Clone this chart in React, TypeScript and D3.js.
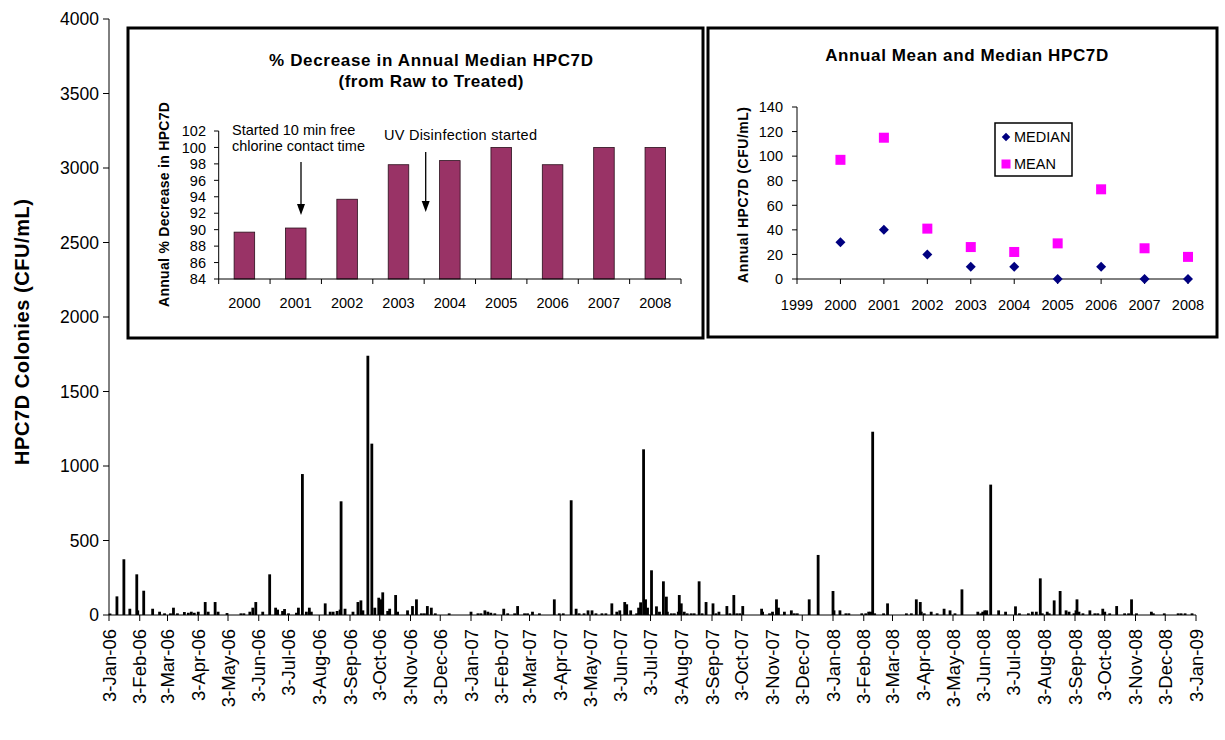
import React from 'react';
import * as d3 from 'd3';

// ---------- main chart data (sample date, HPC7D CFU/mL) ----------
const hpcSamples: [string, number][] = [
  ['2006-01-04', 10], ['2006-01-11', 125], ['2006-01-18', 374], ['2006-01-24', 42], ['2006-01-31', 273],
  ['2006-02-01', 31], ['2006-02-07', 163], ['2006-02-16', 42], ['2006-02-23', 22], ['2006-02-28', 11],
  ['2006-03-06', 11], ['2006-03-09', 49], ['2006-03-13', 11], ['2006-03-20', 20], ['2006-03-24', 15],
  ['2006-03-27', 22], ['2006-03-30', 15], ['2006-04-03', 22], ['2006-04-10', 87], ['2006-04-13', 22],
  ['2006-04-20', 87], ['2006-04-23', 22], ['2006-05-02', 13], ['2006-05-16', 11], ['2006-05-19', 11],
  ['2006-05-25', 22], ['2006-05-28', 49], ['2006-05-31', 87], ['2006-06-07', 22], ['2006-06-14', 273],
  ['2006-06-20', 49], ['2006-06-22', 36], ['2006-06-27', 27], ['2006-06-29', 40], ['2006-07-03', 11],
  ['2006-07-11', 15], ['2006-07-13', 49], ['2006-07-17', 946], ['2006-07-21', 22], ['2006-07-24', 49],
  ['2006-07-26', 22], ['2006-08-09', 78], ['2006-08-14', 22], ['2006-08-17', 22], ['2006-08-21', 27],
  ['2006-08-24', 36], ['2006-08-25', 763], ['2006-08-29', 42], ['2006-09-06', 22], ['2006-09-11', 87],
  ['2006-09-14', 98], ['2006-09-16', 31], ['2006-09-21', 1740], ['2006-09-25', 1150], ['2006-09-28', 49],
  ['2006-10-02', 116], ['2006-10-04', 105], ['2006-10-06', 152], ['2006-10-11', 27], ['2006-10-13', 42],
  ['2006-10-19', 134], ['2006-10-21', 22], ['2006-10-31', 31], ['2006-11-05', 60], ['2006-11-09', 105],
  ['2006-11-14', 11], ['2006-11-17', 11], ['2006-11-20', 60], ['2006-11-24', 49], ['2006-11-28', 11],
  ['2006-12-12', 11],
  ['2007-01-03', 22], ['2007-01-10', 11], ['2007-01-13', 11], ['2007-01-17', 31], ['2007-01-20', 22],
  ['2007-01-23', 15], ['2007-01-27', 11], ['2007-02-05', 42], ['2007-02-09', 11], ['2007-02-16', 11],
  ['2007-02-19', 60], ['2007-02-26', 11], ['2007-03-01', 11], ['2007-03-06', 22], ['2007-03-13', 11],
  ['2007-03-28', 105], ['2007-04-02', 11], ['2007-04-06', 11], ['2007-04-14', 770], ['2007-04-19', 42],
  ['2007-04-22', 11], ['2007-04-27', 11], ['2007-05-01', 31], ['2007-05-05', 31], ['2007-05-09', 11],
  ['2007-05-15', 11], ['2007-05-19', 11], ['2007-05-25', 78], ['2007-05-30', 22], ['2007-06-02', 31],
  ['2007-06-07', 87], ['2007-06-09', 72], ['2007-06-13', 31], ['2007-06-19', 11], ['2007-06-21', 49],
  ['2007-06-23', 85], ['2007-06-26', 1112], ['2007-06-28', 105], ['2007-06-30', 49], ['2007-07-04', 300],
  ['2007-07-09', 58], ['2007-07-12', 22], ['2007-07-16', 226], ['2007-07-19', 123], ['2007-07-20', 22],
  ['2007-07-24', 11], ['2007-07-27', 11], ['2007-07-31', 22], ['2007-08-01', 134], ['2007-08-03', 78],
  ['2007-08-06', 22], ['2007-08-09', 11], ['2007-08-13', 11], ['2007-08-16', 11], ['2007-08-21', 226],
  ['2007-08-24', 11], ['2007-08-28', 87], ['2007-09-04', 78], ['2007-09-07', 11], ['2007-09-10', 22],
  ['2007-09-18', 60], ['2007-09-21', 11], ['2007-09-25', 134], ['2007-09-28', 11], ['2007-10-01', 11],
  ['2007-10-04', 60], ['2007-10-23', 42], ['2007-10-24', 22], ['2007-10-31', 11], ['2007-11-03', 22],
  ['2007-11-07', 105], ['2007-11-09', 49], ['2007-11-15', 22], ['2007-11-22', 31], ['2007-11-25', 11],
  ['2007-11-28', 11], ['2007-12-10', 105], ['2007-12-19', 403],
  ['2008-01-03', 161], ['2008-01-04', 31], ['2008-01-10', 31], ['2008-01-16', 11], ['2008-01-19', 11],
  ['2008-02-01', 11], ['2008-02-05', 11], ['2008-02-08', 22], ['2008-02-10', 22], ['2008-02-12', 1230],
  ['2008-02-14', 11], ['2008-02-23', 11], ['2008-02-27', 78], ['2008-03-17', 11], ['2008-03-22', 11],
  ['2008-03-27', 105], ['2008-03-31', 87], ['2008-04-01', 22], ['2008-04-04', 11], ['2008-04-11', 22],
  ['2008-04-17', 11], ['2008-04-24', 42], ['2008-04-30', 31], ['2008-05-05', 11], ['2008-05-12', 172],
  ['2008-05-28', 22], ['2008-05-31', 11], ['2008-06-02', 22], ['2008-06-04', 31], ['2008-06-06', 31],
  ['2008-06-10', 875], ['2008-06-18', 31], ['2008-06-25', 22], ['2008-07-05', 58], ['2008-07-09', 11],
  ['2008-07-18', 11], ['2008-07-22', 22], ['2008-07-26', 22], ['2008-07-30', 246], ['2008-08-01', 11],
  ['2008-08-06', 22], ['2008-08-08', 11], ['2008-08-13', 98], ['2008-08-19', 161], ['2008-08-25', 31],
  ['2008-08-28', 22], ['2008-09-02', 11], ['2008-09-04', 31], ['2008-09-05', 105], ['2008-09-07', 22],
  ['2008-09-11', 11], ['2008-09-18', 31], ['2008-09-23', 11], ['2008-09-26', 11], ['2008-10-01', 42],
  ['2008-10-03', 22], ['2008-10-08', 11], ['2008-10-15', 60], ['2008-10-23', 11], ['2008-10-27', 11],
  ['2008-10-30', 105], ['2008-11-04', 11], ['2008-11-19', 22], ['2008-11-21', 11], ['2008-12-02', 11],
  ['2008-12-16', 11], ['2008-12-19', 11], ['2008-12-23', 11], ['2008-12-30', 11],
];
const mainYTicks = [0, 500, 1000, 1500, 2000, 2500, 3000, 3500, 4000];
const mainYTitle = 'HPC7D Colonies (CFU/mL)';

// ---------- inset 1: % decrease ----------
const decreaseYears = ['2000', '2001', '2002', '2003', '2004', '2005', '2006', '2007', '2008'];
const pctDecrease = [89.7, 90.2, 93.7, 97.9, 98.4, 100, 97.9, 100, 100];
const pctTicks = [84, 86, 88, 90, 92, 94, 96, 98, 100, 102];

// ---------- inset 2: annual mean & median ----------
const statYears = [2000, 2001, 2002, 2003, 2004, 2005, 2006, 2007, 2008];
const medianHPC = [30, 40, 20, 10, 10, 0, 10, 0, 0];
const meanHPC = [97, 115, 41, 26, 22, 29, 73, 25, 18];
const statYTicks = [0, 20, 40, 60, 80, 100, 120, 140];
const statXTicks = [1999, 2000, 2001, 2002, 2003, 2004, 2005, 2006, 2007, 2008];

const FONT = "'Liberation Sans', Arial, Helvetica, sans-serif";
const DIAMOND = 'M0,-5L5,0L0,5L-5,0Z';

export default function App() {
  const parse = d3.timeParse('%Y-%m-%d');
  const fmt = d3.timeFormat('%-d-%b-%y');

  // main
  const x = d3.scaleTime().domain([new Date(2006, 0, 3), new Date(2009, 0, 3)]).range([109, 1196]);
  const y = d3.scaleLinear().domain([0, 4000]).range([615, 19]);
  const monthTicks = d3.range(0, 37).map((i) => new Date(2006, i, 3));

  // inset 1
  const xb = d3.scaleBand<string>().domain(decreaseYears).range([218.7, 681]).paddingInner(0.6).paddingOuter(0.3);
  const yb = d3.scaleLinear().domain([84, 102]).range([279, 131]);
  const stepB = xb.step();
  const bandEdges = d3.range(0, decreaseYears.length + 1).map((i) => 218.7 + i * stepB);

  // inset 2
  const xs = d3.scaleLinear().domain([1999, 2008]).range([797, 1188]);
  const ys = d3.scaleLinear().domain([0, 140]).range([279, 107]);

  const arrow = (ax: number, y1: number, y2: number) => (
    <g>
      <line x1={ax} x2={ax} y1={y1} y2={y2 - 9} stroke="#000" strokeWidth={1.3} />
      <path d={`M${ax - 4},${y2 - 11} L${ax + 4},${y2 - 11} L${ax},${y2} Z`} fill="#000" />
    </g>
  );

  return (
    <svg width={1225} height={740} style={{ position: 'absolute', left: 0, top: 0, background: '#fff' }} fontFamily={FONT}>
      <rect width={1225} height={740} fill="#fff" />
      {/* ===== main chart ===== */}
      {hpcSamples.map(([d, v], i) => {
        const cx = x(parse(d) as Date);
        return <rect key={i} x={cx - 1.4} y={y(v)} width={2.8} height={y(0) - y(v)} fill="#000" />;
      })}
      <line x1={109} x2={109} y1={y(4000)} y2={y(0)} stroke="#000" strokeWidth={1} />
      <line x1={109} x2={1196} y1={y(0)} y2={y(0)} stroke="#000" strokeWidth={1} />
      {mainYTicks.map((t) => (
        <g key={t}>
          <line x1={103} x2={109} y1={y(t)} y2={y(t)} stroke="#000" />
          <text x={99} y={y(t)} dy="0.36em" textAnchor="end" fontSize={17.5} fill="#000">{t}</text>
        </g>
      ))}
      {monthTicks.map((t, i) => (
        <g key={i}>
          <line x1={x(t)} x2={x(t)} y1={y(0)} y2={y(0) + 6} stroke="#000" />
          <text transform={`translate(${x(t)},${629}) rotate(-90)`} dy="0.36em" textAnchor="end" fontSize={18.5} fill="#000">
            {fmt(t)}
          </text>
        </g>
      ))}
      <text transform={`translate(22,${332}) rotate(-90)`} textAnchor="middle" dy="0.36em" fontSize={20} fontWeight="bold" fill="#000" textLength={266} lengthAdjust="spacing">
        {mainYTitle}
      </text>

      {/* ===== inset 1 ===== */}
      <rect x={128} y={28} width={575} height={310} fill="#fff" stroke="#000" strokeWidth={3} />
      <text x={431} y={66} textAnchor="middle" fontSize={17} fontWeight="bold" textLength={324} lengthAdjust="spacing">% Decrease  in Annual Median HPC7D</text>
      <text x={431} y={87} textAnchor="middle" fontSize={17} fontWeight="bold" textLength={185} lengthAdjust="spacing">(from Raw to Treated)</text>
      {decreaseYears.map((yr, i) => (
        <rect key={yr} x={xb(yr)} y={yb(pctDecrease[i])} width={xb.bandwidth()} height={yb(84) - yb(pctDecrease[i])}
          fill="#993366" stroke="#2a0f1c" strokeWidth={0.8} />
      ))}
      <line x1={218.7} x2={218.7} y1={yb(102)} y2={yb(84)} stroke="#000" />
      <line x1={218.7} x2={681} y1={yb(84)} y2={yb(84)} stroke="#000" />
      {pctTicks.map((t) => (
        <g key={t}>
          <line x1={214} x2={218.7} y1={yb(t)} y2={yb(t)} stroke="#000" />
          <text x={206} y={yb(t)} dy="0.36em" textAnchor="end" fontSize={14.5}>{t}</text>
        </g>
      ))}
      {bandEdges.map((ex, i) => (
        <line key={i} x1={ex} x2={ex} y1={yb(84)} y2={yb(84) + 5} stroke="#000" />
      ))}
      {decreaseYears.map((yr) => (
        <text key={yr} x={(xb(yr) as number) + xb.bandwidth() / 2} y={303} dy="0.36em" textAnchor="middle" fontSize={14.5}>{yr}</text>
      ))}
      <text transform={`translate(164,204.5) rotate(-90)`} textAnchor="middle" dy="0.36em" fontSize={14} fontWeight="bold" textLength={205} lengthAdjust="spacing">
        Annual % Decrease in HPC7D
      </text>
      <text x={232} y={130} dy="0.36em" fontSize={14.5}>Started 10 min free</text>
      <text x={232} y={146} dy="0.36em" fontSize={14.5}>chlorine contact time</text>
      <text x={384} y={135} dy="0.36em" fontSize={14.5} textLength={153} lengthAdjust="spacing">UV Disinfection started</text>
      {arrow(301, 162, 215)}
      {arrow(425.7, 152, 212)}

      {/* ===== inset 2 ===== */}
      <rect x={708} y={28} width={509} height={309} fill="#fff" stroke="#000" strokeWidth={3} />
      <text x={966.7} y={61} textAnchor="middle" fontSize={17} fontWeight="bold" textLength={283} lengthAdjust="spacing">Annual Mean and Median HPC7D</text>
      <line x1={797} x2={797} y1={ys(140)} y2={ys(0)} stroke="#000" />
      <line x1={797} x2={1188} y1={ys(0)} y2={ys(0)} stroke="#000" />
      {statYTicks.map((t) => (
        <g key={t}>
          <line x1={792} x2={797} y1={ys(t)} y2={ys(t)} stroke="#000" />
          <text x={783} y={ys(t)} dy="0.36em" textAnchor="end" fontSize={14.5}>{t}</text>
        </g>
      ))}
      {statXTicks.map((t) => (
        <g key={t}>
          <line x1={xs(t)} x2={xs(t)} y1={ys(0)} y2={ys(0) + 5} stroke="#000" />
          <text x={xs(t)} y={305} dy="0.36em" textAnchor="middle" fontSize={14.5}>{t}</text>
        </g>
      ))}
      <text transform={`translate(743,195) rotate(-90)`} textAnchor="middle" dy="0.36em" fontSize={14} fontWeight="bold" textLength={176} lengthAdjust="spacing">
        Annual HPC7D (CFU/mL)
      </text>
      {statYears.map((yr, i) => (
        <rect key={'m' + yr} x={xs(yr) - 5} y={ys(meanHPC[i]) - 5} width={10} height={10} fill="#FF00FF" />
      ))}
      {statYears.map((yr, i) => (
        <path key={'d' + yr} d={DIAMOND} transform={`translate(${xs(yr)},${ys(medianHPC[i])})`} fill="#000080" />
      ))}
      <rect x={995} y={123} width={77} height={53} fill="#fff" stroke="#000" strokeWidth={1.5} />
      <path d={DIAMOND} transform="translate(1006,137) scale(0.85)" fill="#000080" />
      <text x={1014} y={137} dy="0.36em" fontSize={14.5}>MEDIAN</text>
      <rect x={1001.5} y={159.5} width={9} height={9} fill="#FF00FF" />
      <text x={1014} y={164} dy="0.36em" fontSize={14.5}>MEAN</text>
    </svg>
  );
}
